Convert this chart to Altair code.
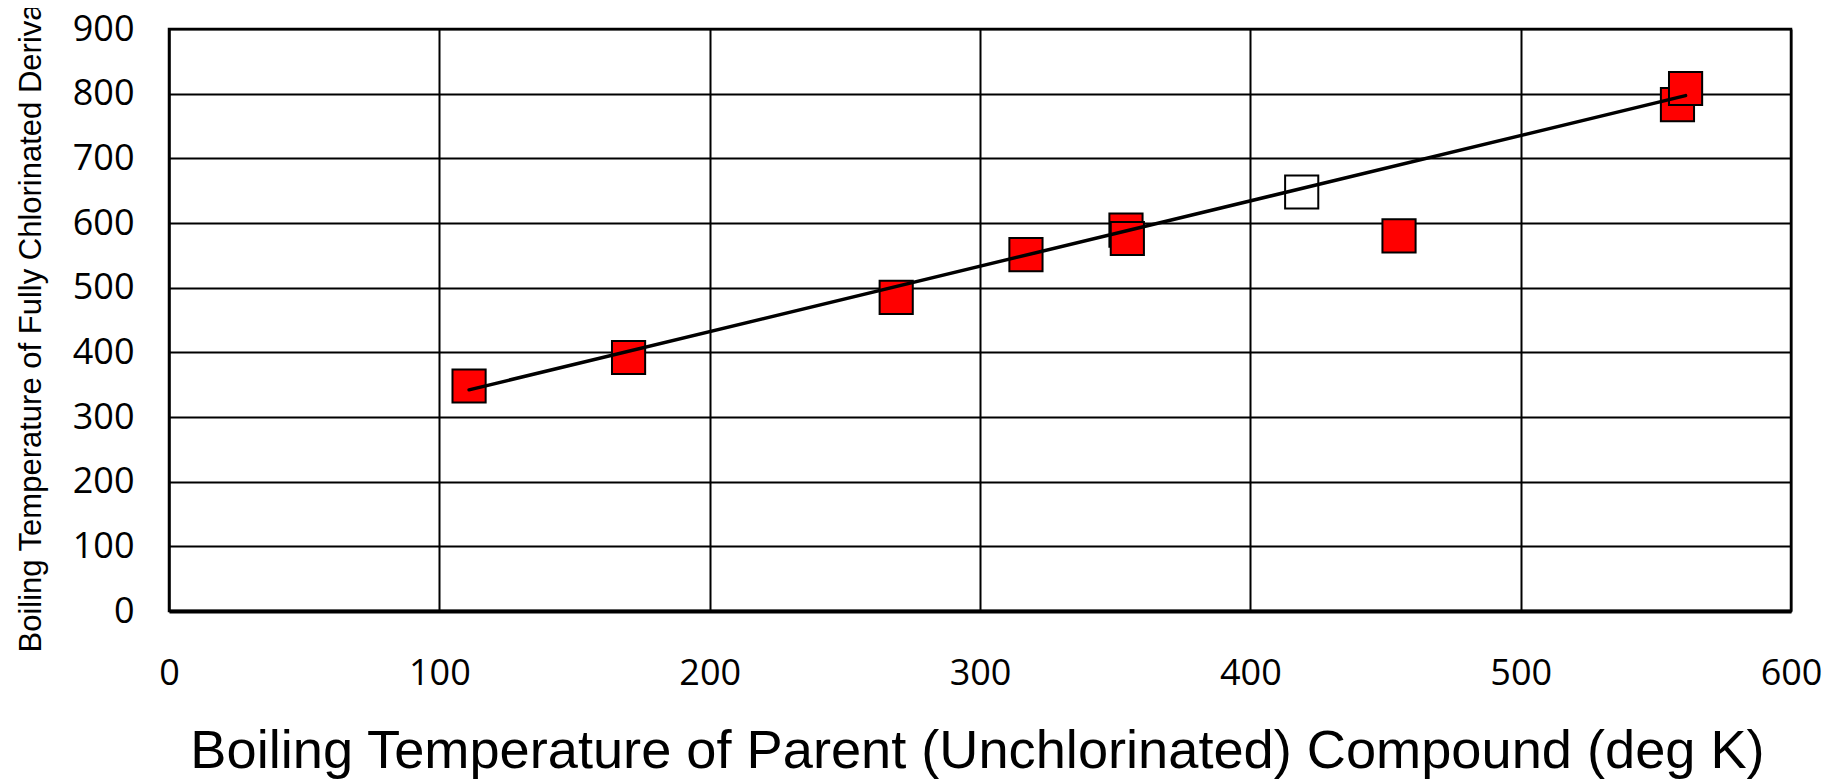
import altair as alt
import pandas as pd

# Red (filled) points: parent boiling T (K) vs fully chlorinated derivative boiling T (K)
red_x = [111, 170, 269, 317, 354, 354.5, 455, 558, 561]
red_y = [348, 392, 485, 551, 589, 576, 580, 783, 808]
# Open (white) point
open_x = [419]
open_y = [648]
# Fitted line end points
fit_x = [111, 561]
fit_y = [342, 797]

x_ticks = [0, 100, 200, 300, 400, 500, 600]
y_ticks = [0, 100, 200, 300, 400, 500, 600, 700, 800, 900]

red_df = pd.DataFrame({"x": red_x, "y": red_y, "order": list(range(len(red_x)))})
open_df = pd.DataFrame({"x": open_x, "y": open_y})
fit_df = pd.DataFrame({"x": fit_x, "y": fit_y})

x_scale = alt.Scale(domain=[0, 600], nice=False, zero=False)
y_scale = alt.Scale(domain=[0, 900], nice=False, zero=False)

x_axis = alt.Axis(
    values=x_ticks, grid=True, gridColor="black", gridWidth=2, gridOpacity=1,
    domain=True, domainColor="black", domainWidth=4, ticks=False,
    labelFont="Open Sans", labelFontSize=36, labelColor="black", labelPadding=45,
    labelFlush=False, labelOverlap=False,
    title="Boiling Temperature of Parent (Unchlorinated) Compound (deg K)",
    titleFont="Liberation Sans", titleFontSize=54.2, titleFontWeight="normal",
    titleColor="black", titleAlign="center", titleBaseline="alphabetic",
    titleX=808, titleY=156,
)
y_axis = alt.Axis(
    values=y_ticks, grid=True, gridColor="black", gridWidth=2, gridOpacity=1,
    domain=True, domainColor="black", domainWidth=2, ticks=False,
    labelFont="Open Sans", labelFontSize=36, labelColor="black", labelPadding=35,
    labelFlush=False, labelOverlap=False,
    title="Boiling Temperature of Fully Chlorinated Derivative (deg K)",
    titleFont="Liberation Sans", titleFontSize=31, titleFontWeight="normal",
    titleColor="black", titleAngle=270, titleAlign="left", titleBaseline="alphabetic",
    titleX=-129, titleY=623,
)

red = alt.Chart(red_df).mark_square(
    size=1100, filled=True, fill="#FF0000", stroke="black", strokeWidth=2, opacity=1
).encode(
    x=alt.X("x:Q", scale=x_scale, axis=x_axis),
    y=alt.Y("y:Q", scale=y_scale, axis=y_axis),
    order="order:Q",
)

open_pt = alt.Chart(open_df).mark_square(
    size=1100, filled=True, fill="white", stroke="black", strokeWidth=2, opacity=1
).encode(
    x=alt.X("x:Q", scale=x_scale),
    y=alt.Y("y:Q", scale=y_scale),
)

fit = alt.Chart(fit_df).mark_line(color="black", strokeWidth=3.5, strokeCap="round").encode(
    x=alt.X("x:Q", scale=x_scale),
    y=alt.Y("y:Q", scale=y_scale),
)

chart = alt.layer(red, open_pt, fit).properties(
    width=1622,
    height=582,
    autosize=alt.AutoSizeParams(type="none"),
    padding={"left": 161, "top": 21, "right": 33, "bottom": 169},
    background="white",
).configure_view(stroke="black", strokeWidth=2.5)

chart.save("out.html", embed_options={"renderer": "svg", "actions": False})
